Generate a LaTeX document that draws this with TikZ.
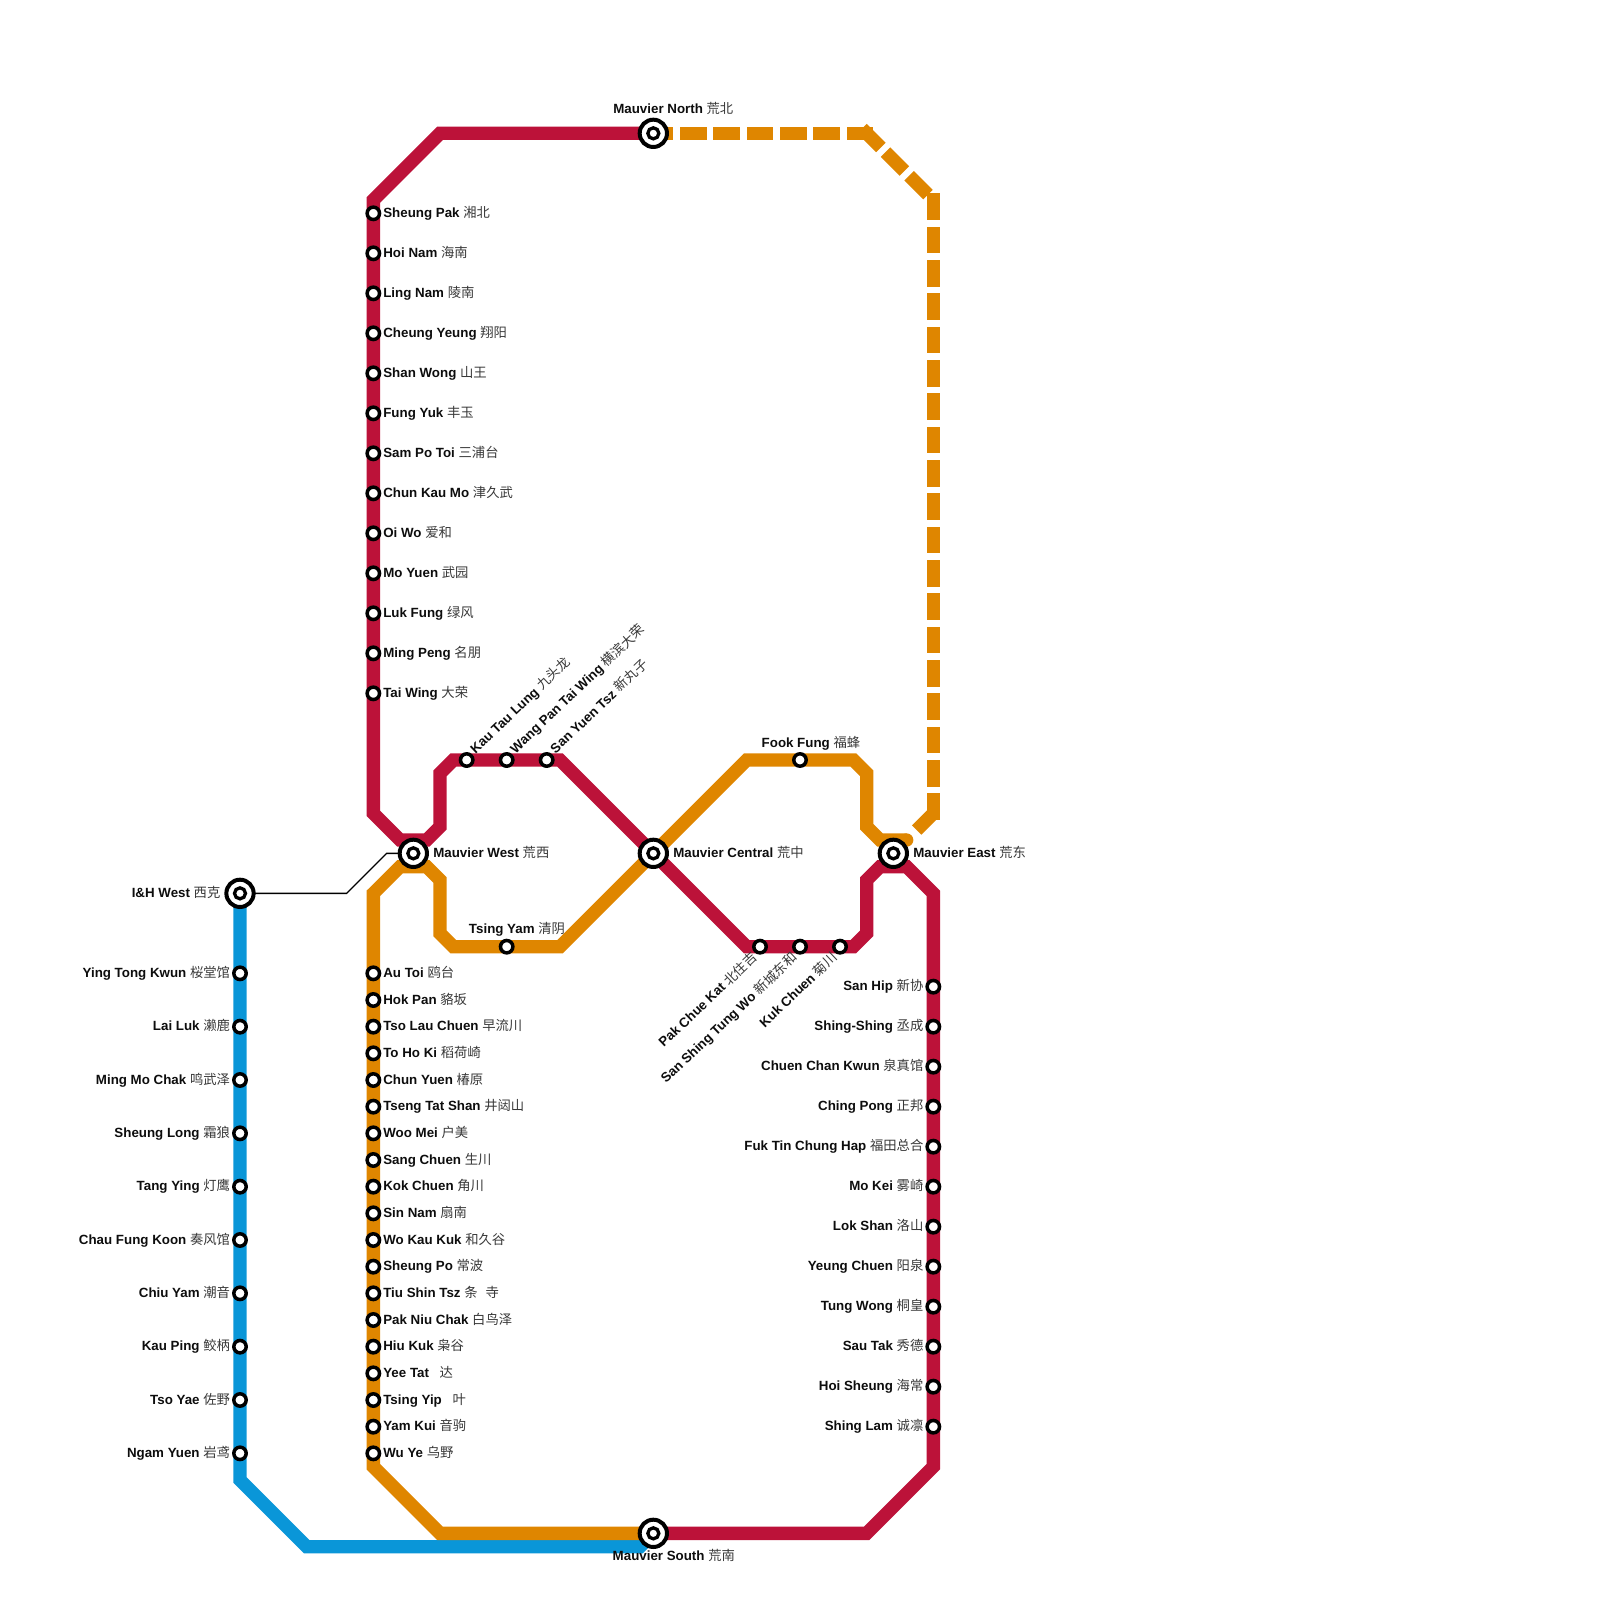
\documentclass[tikz,border=0pt]{standalone}
\usepackage{fontspec}
\setmainfont{Liberation Sans}
\newfontfamily\cjk{Noto Sans CJK SC}
\definecolor{redl}{HTML}{BC1239}
\definecolor{orangel}{HTML}{DF8600}
\definecolor{bluel}{HTML}{0A96D8}
\newcommand{\lbl}[2]{\textbf{#1} {\cjk\color{black!78}#2}}
\tikzset{
  metro/.style={line width=13.33pt,miter limit=10},
  redline/.style={metro,draw=redl},
  orangeline/.style={metro,draw=orangel},
  blueline/.style={metro,draw=bluel},
  dashline/.style={metro,draw=orangel,line cap=rect,dash pattern=on 13.33pt off 20pt},
  stn/.style={circle,draw=black,fill=white,line width=3.5pt,minimum size=12.4pt,inner sep=0pt,outer sep=0pt},
  ichg/.style={circle,draw=black,fill=white,line width=4pt,minimum size=27.3pt,inner sep=0pt,outer sep=0pt},
  ichgin/.style={circle,draw=black,fill=white,line width=3.3pt,minimum size=11pt,inner sep=0pt,outer sep=0pt},
  txt/.style={inner sep=0pt,outer sep=0pt,font=\fontsize{13.33}{16}\selectfont,text=black!95},
  txtw/.style={txt,anchor=base west},
  txte/.style={txt,anchor=base east},
  link/.style={line width=1.33pt,draw=black}
}
\begin{document}
\begin{tikzpicture}[x=1pt,y=-1pt]
\useasboundingbox (0,0) rectangle (1600,1600);
% interchange positions
\coordinate (iw) at (240,893.33);
\coordinate (mw) at (413.33,853.33);
\coordinate (mc) at (653.33,853.33);
\coordinate (me) at (893.33,853.33);
\coordinate (mn) at (653.33,133.33);
\coordinate (ms) at (653.33,1533.33);
% connector
\coordinate (l1) at (346.67,893.33);
\coordinate (l2) at (386.67,853.33);
\draw[link] (iw) -- (l1) -- (l2) -- (mw);
% blue line
\coordinate (b1) at (240,1480);
\coordinate (b2) at (306.67,1546.67);
\coordinate (b3) at (640,1546.67);
\draw[blueline] (iw) -- (b1) -- (b2) -- (b3) -- (ms);
% red line
\draw[redline] (mn) -- (440,133.33) -- (373.33,200) -- (373.33,813.33) -- (400,840) -- (426.67,840) -- (440,826.67) -- (440,773.33) -- (453.33,760) -- (560,760) -- (mc) -- (746.67,946.67) -- (853.33,946.67) -- (866.67,933.33) -- (866.67,880) -- (880,866.67) -- (906.67,866.67) -- (933.33,893.33) -- (933.33,1466.67) -- (866.67,1533.33) -- (ms);
% orange line
\draw[orangeline] (ms) -- (440,1533.33) -- (373.33,1466.67) -- (373.33,893.33) -- (400,866.67) -- (426.67,866.67) -- (440,880) -- (440,933.33) -- (453.33,946.67) -- (560,946.67) -- (mc) -- (746.67,760) -- (853.33,760) -- (866.67,773.33) -- (866.67,826.67) -- (880,840) -- (906.67,840);
\fill[orangel] (906.67,840) circle (6.67pt);
% dashed orange
\coordinate (d1) at (866.67,133.33);
\coordinate (d2) at (933.33,200);
\coordinate (d3) at (933.33,813.33);
\coordinate (d4) at (916.67,830);
\draw[dashline] (mn) -- (d1);
\draw[dashline] (d1) -- (d2);
\draw[dashline] (d2) -- (d3);
\draw[metro,draw=orangel] (d3) -- (d4);
% stations on the upper red branch
\foreach \e/\c [count=\i from 0] in {Sheung Pak/湘北,Hoi Nam/海南,Ling Nam/陵南,Cheung Yeung/翔阳,Shan Wong/山王,Fung Yuk/丰玉,Sam Po Toi/三浦台,Chun Kau Mo/津久武,Oi Wo/爱和,Mo Yuen/武园,Luk Fung/绿风,Ming Peng/名朋,Tai Wing/大荣}{
  \node[stn] (r\i) at (373.33,213.33+40*\i) {};
  \path (r\i) ++(10,4) node[txtw] (rl\i) {\lbl{\e}{\c}};
}
% orange branch
\foreach \e/\c [count=\i from 0] in {Au Toi/鸥台,Hok Pan/貉坂,Tso Lau Chuen/早流川,To Ho Ki/稻荷崎,Chun Yuen/椿原,Tseng Tat Shan/井闼山,Woo Mei/户美,Sang Chuen/生川,Kok Chuen/角川,Sin Nam/扇南,Wo Kau Kuk/和久谷,Sheung Po/常波,Tiu Shin Tsz/条\hspace{8pt}寺,Pak Niu Chak/白鸟泽,Hiu Kuk/枭谷,Yee Tat/\hspace{7pt}达,Tsing Yip/\hspace{7pt}叶,Yam Kui/音驹,Wu Ye/乌野}{
  \node[stn] (o\i) at (373.33,973.33+26.667*\i) {};
  \path (o\i) ++(10,4) node[txtw] (ol\i) {\lbl{\e}{\c}};
}
% blue branch
\foreach \e/\c [count=\i from 0] in {Ying Tong Kwun/桜堂馆,Lai Luk/濑鹿,Ming Mo Chak/鸣武泽,Sheung Long/霜狼,Tang Ying/灯鹰,Chau Fung Koon/奏风馆,Chiu Yam/潮音,Kau Ping/鲛柄,Tso Yae/佐野,Ngam Yuen/岩鸢}{
  \node[stn] (b\i) at (240,973.33+53.333*\i) {};
  \path (b\i) ++(-10,4) node[txte] (bl\i) {\lbl{\e}{\c}};
}
% right red branch
\foreach \e/\c [count=\i from 0] in {San Hip/新协,Shing-Shing/丞成,Chuen Chan Kwun/泉真馆,Ching Pong/正邦,Fuk Tin Chung Hap/福田总合,Mo Kei/雾崎,Lok Shan/洛山,Yeung Chuen/阳泉,Tung Wong/桐皇,Sau Tak/秀德,Hoi Sheung/海常,Shing Lam/诚凛}{
  \node[stn] (e\i) at (933.33,986.67+40*\i) {};
  \path (e\i) ++(-10,4) node[txte] (el\i) {\lbl{\e}{\c}};
}
% diagonal labelled stations, upper
\foreach \e/\c/\x [count=\i from 0] in {Kau Tau Lung/九头龙/466.67,Wang Pan Tai Wing/横滨大荣/506.67,San Yuen Tsz/新丸子/546.67}{
  \node[stn] (u\i) at (\x,760) {};
  \path (u\i) ++(9,-6) node[txtw,rotate=43.5] (ul\i) {\lbl{\e}{\c}};
}
% diagonal labelled stations, lower
\foreach \e/\c/\x [count=\i from 0] in {Pak Chue Kat/北住吉/760,San Shing Tung Wo/新城东和/800,Kuk Chuen/菊川/840}{
  \node[stn] (p\i) at (\x,946.67) {};
  \path (p\i) ++(-2,12) node[txte,rotate=43.5] (pl\i) {\lbl{\e}{\c}};
}
% single stations
\node[stn] (ff) at (800,760) {};
\path (ff) ++(-38.3,-12.7) node[txtw] (ffl) {\lbl{Fook Fung}{福蜂}};
\node[stn] (ty) at (506.67,946.67) {};
\path (ty) ++(-37.7,-12.7) node[txtw] (tyl) {\lbl{Tsing Yam}{清阴}};
% interchanges
\foreach \n in {iw,mw,mc,me,mn,ms}{
  \node[ichg] (\n o) at (\n) {};
  \node[ichgin] (\n i) at (\n) {};
}
\path (iwo) ++(-19.6,4) node[txte] (iwl) {\lbl{I\&H West}{西克}};
\path (mwo) ++(20,4) node[txtw] (mwl) {\lbl{Mauvier West}{荒西}};
\path (mco) ++(20,4) node[txtw] (mcl) {\lbl{Mauvier Central}{荒中}};
\path (meo) ++(20,4) node[txtw] (mel) {\lbl{Mauvier East}{荒东}};
\path (mno) ++(-40,-19.4) node[txtw] (mnl) {\lbl{Mauvier North}{荒北}};
\path (mso) ++(-40.6,27.2) node[txtw] (msl) {\lbl{Mauvier South}{荒南}};
\end{tikzpicture}
\end{document}
